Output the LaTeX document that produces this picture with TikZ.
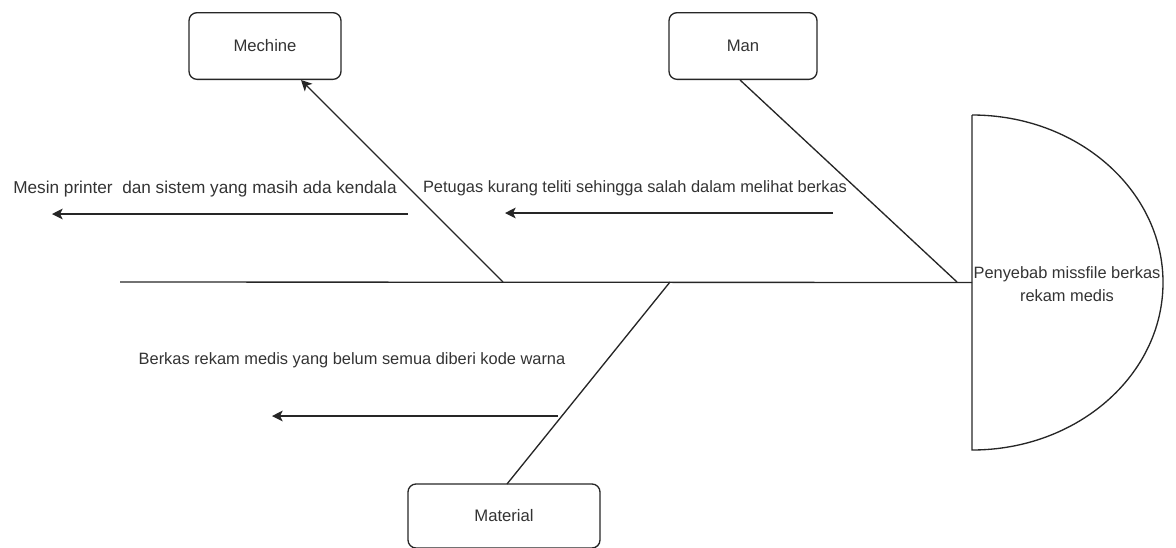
\documentclass[tikz,border=0pt]{standalone}
\usepackage{fontspec}
\setmainfont{Liberation Sans}
\usetikzlibrary{arrows.meta}
\begin{document}
\begin{tikzpicture}[x=0.75pt,y=-0.75pt,
  box/.style={draw=black!85, rounded corners=6pt, line width=1pt, inner sep=0pt, font=\fontsize{12.5}{15}\selectfont, text=black!80},
  bone/.style={draw=black!85, line width=1pt},
  cause/.style={draw=black!85, line width=1pt, -{Stealth[length=8pt,width=8pt,inset=2pt]}},
  lbl/.style={font=\fontsize{12.9}{17}\selectfont, inner sep=0pt, text=black!80},
  lbls/.style={font=\fontsize{12.3}{17}\selectfont, inner sep=0pt, text=black!80},
  headlbl/.style={font=\fontsize{12.3}{17}\selectfont, inner sep=0pt, text=black!80, align=center}
]
\useasboundingbox (0,0) rectangle (1176,547);
% category boxes
\node[box, minimum width=114pt, minimum height=50pt] (mech) at (265,46) {Mechine};
\node[box, minimum width=111pt, minimum height=50pt] (man) at (743,46) {Man};
\node[box, minimum width=144pt, minimum height=48pt] (mat) at (504,516) {Material};
% head
\node[inner sep=0pt, minimum width=143pt, minimum height=251pt, anchor=west] (head) at (972,282.5) {};
\draw[bone] (972,115) -- (972,450) .. controls (1077.5,450) and (1163,375) .. (1163,282.5)
  .. controls (1163,190) and (1077.5,115) .. (972,115);
\node[headlbl] (headtxt) at (1067,284) {Penyebab missfile berkas\\rekam medis};
% spine
\coordinate (tail) at (120,282);
\draw[bone] (tail) -- (head.west);
% bones
\coordinate (jm) at (503,282); \coordinate (mtip) at (301,80);
\draw[cause] (jm) -- (mtip);
\coordinate (jn) at (957,282); \coordinate (ntip) at (740,80);
\draw[bone] (jn) -- (ntip);
\coordinate (jt) at (670,282); \coordinate (ttip) at (507,484);
\draw[bone] (jt) -- (ttip);
% causes
\coordinate (a1s) at (408,214); \coordinate (a1e) at (52,214);
\draw[cause] (a1s) -- (a1e);
\node[lbl] (t1) at (205,189) {Mesin printer\ \ dan sistem yang masih ada kendala};
\coordinate (a2s) at (833,213); \coordinate (a2e) at (505,213);
\draw[cause] (a2s) -- (a2e);
\node[lbls] (t2) at (635,188) {Petugas kurang teliti sehingga salah dalam melihat berkas};
\coordinate (a3s) at (558,416); \coordinate (a3e) at (272,416);
\draw[cause] (a3s) -- (a3e);
\node[lbls] (t3) at (352,360) {Berkas rekam medis yang belum semua diberi kode warna};
\end{tikzpicture}
\end{document}
